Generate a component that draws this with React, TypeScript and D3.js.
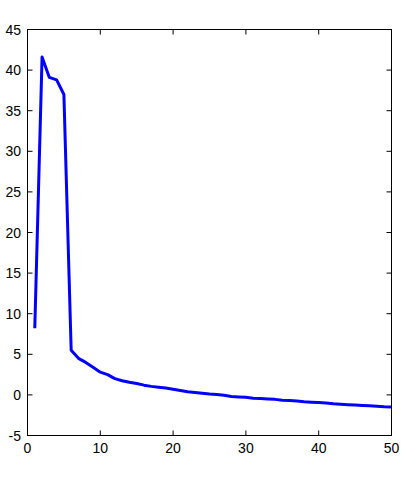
import React from "react";
import * as d3 from "d3";

const xValues: number[] = Array.from({ length: 50 }, (_, i) => i + 1);
const yValues: number[] = [
  8.2, 41.6, 39.1, 38.8, 37.0, 5.5, 4.5, 4.0, 3.4, 2.8,
  2.5, 2.0, 1.75, 1.55, 1.4, 1.2, 1.05, 0.95, 0.85, 0.7,
  0.55, 0.4, 0.3, 0.2, 0.1, 0.05, -0.05, -0.2, -0.25, -0.3,
  -0.4, -0.45, -0.5, -0.55, -0.65, -0.7, -0.75, -0.85, -0.9, -0.95,
  -1.0, -1.1, -1.15, -1.2, -1.25, -1.3, -1.35, -1.4, -1.45, -1.48,
];
const xTicks: number[] = [0, 10, 20, 30, 40, 50];
const yTicks: number[] = [-5, 0, 5, 10, 15, 20, 25, 30, 35, 40, 45];

const W = 401;
const H = 481;
const left = 27.5;
const right = 391.5;
const top = 29.5;
const bottom = 435.5;

export default function App() {
  const x = d3.scaleLinear().domain([0, 50]).range([left, right]);
  const y = d3.scaleLinear().domain([-5, 45]).range([bottom, top]);
  const line = d3
    .line<number>()
    .x((_, i) => x(xValues[i]))
    .y((d) => y(d));
  const tl = 5;
  const font = "Arial, 'Liberation Sans', sans-serif";
  return (
    <svg
      width={W}
      height={H}
      style={{ position: "absolute", left: 0, top: 0, background: "#fff" }}
    >
      <rect x={0} y={0} width={W} height={H} fill="#fff" />
      <path d={line(yValues) || ""} fill="none" stroke="#0000ff" strokeWidth={3} strokeLinejoin="round" />
      <rect x={left} y={top} width={right - left} height={bottom - top} fill="none" stroke="#000" strokeWidth={1} />
      {xTicks.map((t) => (
        <g key={"x" + t}>
          <line x1={x(t)} x2={x(t)} y1={bottom} y2={bottom - tl} stroke="#000" />
          <line x1={x(t)} x2={x(t)} y1={top} y2={top + tl} stroke="#000" />
          <text x={x(t)} y={453} textAnchor="middle" fontFamily={font} fontSize={14} fill="#000">
            {t}
          </text>
        </g>
      ))}
      {yTicks.map((t) => (
        <g key={"y" + t}>
          <line x1={left} x2={left + tl} y1={y(t)} y2={y(t)} stroke="#000" />
          <line x1={right} x2={right - tl} y1={y(t)} y2={y(t)} stroke="#000" />
          <text x={21} y={y(t)} dy="0.36em" textAnchor="end" fontFamily={font} fontSize={14} fill="#000">
            {t}
          </text>
        </g>
      ))}
    </svg>
  );
}
